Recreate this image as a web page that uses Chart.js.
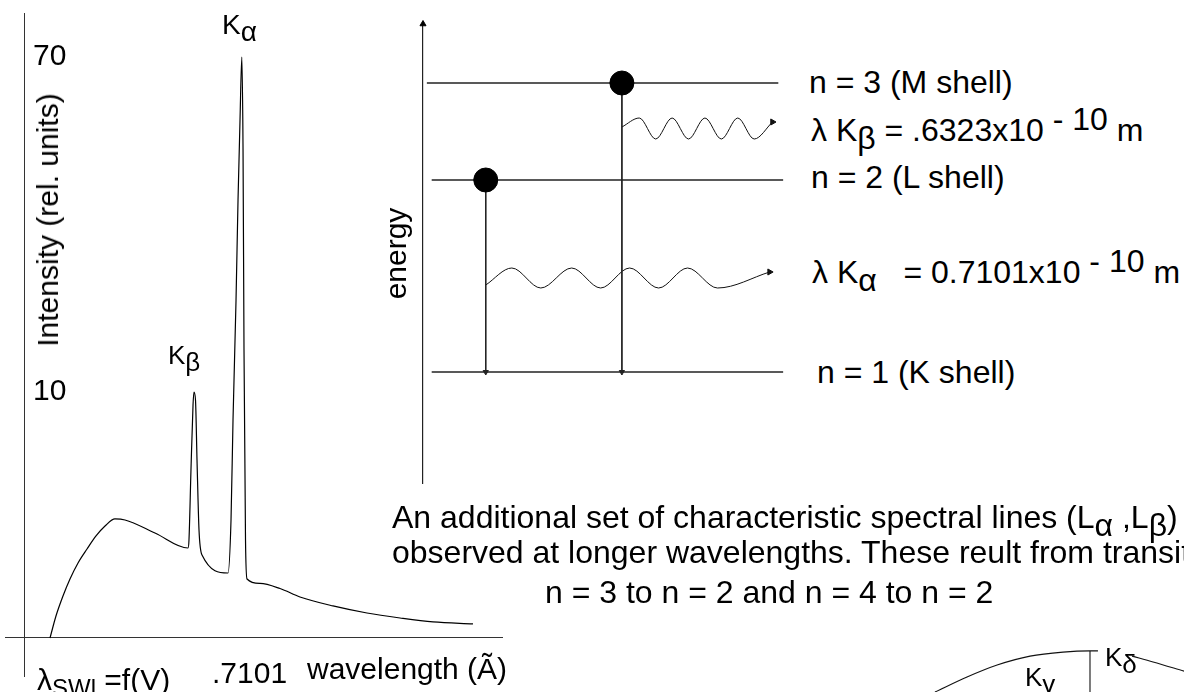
<!DOCTYPE html>
<html>
<head>
<meta charset="utf-8">
<title>X-ray spectrum and K-shell transitions</title>
<script src="https://cdn.jsdelivr.net/npm/chart.js@4.4.1/dist/chart.umd.min.js"></script>
<style>
  html, body { margin: 0; padding: 0; background: #fff; }
  body {
    width: 1184px; height: 692px; overflow: hidden; position: relative;
    font-family: "Liberation Sans", Arial, sans-serif; color: #000;
  }
  .box { position: absolute; }
  .box canvas { display: block; }
  .txt { position: absolute; white-space: pre; line-height: 1; font-size: 30px; }
  .e { font-size: 32px; }
  .lo { position: relative; top: 0.25em; }
  .hi { position: relative; top: -0.33em; }
  .rot { transform: translate(-50%, -50%) rotate(-90deg); }
</style>
</head>
<body>

<div class="box" style="left:-51px; top:-33px; width:571px; height:756px;">
  <canvas id="spectrumChart" width="571" height="756"></canvas>
</div>
<div class="box" style="left:373px; top:0; width:427px; height:500px;">
  <canvas id="levelChart" width="427" height="500"></canvas>
</div>
<div class="box" style="left:900px; top:600px; width:284px; height:92px;">
  <canvas id="edgeChart" width="284" height="92"></canvas>
</div>

<!-- spectrum labels -->
<div class="txt" style="left:222px; top:11px; font-size:28px;">K<span class="lo">α</span></div>
<div class="txt" style="left:168px; top:342px; font-size:26px;">K<span class="lo">β</span></div>
<div class="txt rot" style="left:48px; top:220px;">Intensity (rel. units)</div>
<div class="txt" style="left:37px; top:665px;">λ<span class="lo" style="font-size:0.8em">SWl</span> =f(V)</div>
<div class="txt" style="left:212px; top:658px;">.7101</div>
<div class="txt" style="left:307px; top:654px;">wavelength (Ã)</div>

<!-- energy level labels -->
<div class="txt e" style="left:809px; top:66px;">n = 3 (M shell)</div>
<div class="txt e" style="left:811px; top:114px;">λ K<span class="lo">β</span> = .6323x10 <span class="hi">- 10</span> m</div>
<div class="txt e" style="left:811px; top:161px;">n = 2 (L shell)</div>
<div class="txt e" style="left:812px; top:256px;">λ K<span class="lo">α</span>   = 0.7101x10 <span class="hi">- 10</span> m</div>
<div class="txt e" style="left:817px; top:356px;">n = 1 (K shell)</div>

<!-- paragraph -->
<div class="txt e" style="left:392px; top:501px;">An additional set of characteristic spectral lines (L<span class="lo">α</span> ,L<span class="lo">β</span>) (</div>
<div class="txt e" style="left:392px; top:536px;">observed at longer wavelengths. These reult from transitions</div>
<div class="txt e" style="left:545px; top:576px;">n = 3 to n = 2 and n = 4 to n = 2</div>

<!-- absorption edge labels -->
<div class="txt" style="left:1025px; top:664px; font-size:26px;">K<span class="lo">γ</span></div>
<div class="txt" style="left:1105px; top:644px; font-size:26px;">K<span class="lo">δ</span></div>

<script>
// Espectro continuo + lineas caracteristicas (longitud de onda en Å, intensidad relativa)
const wavelengths = [
  0.3925, 0.4024, 0.4140, 0.4256, 0.4389, 0.4538, 0.4687, 0.4836, 0.5001, 0.5167, 0.5663, 0.6210,
  0.6226, 0.6259, 0.6293, 0.6309, 0.6334, 0.6359, 0.6392, 0.6442,
  0.6872, 0.6922, 0.6955, 0.7005, 0.7038, 0.7071, 0.7101, 0.7121, 0.7137, 0.7162, 0.7187,
  0.7402, 0.7733, 0.8064, 0.8610, 0.9173, 0.9720, 1.0266, 1.0928
];
const intensities = [
  0, 2.65, 5.06, 7.11, 9.04, 10.72, 12.29, 13.49, 14.34, 14.22, 12.65, 10.84,
  11.81, 20.24, 28.07, 29.64, 28.67, 21.45, 13.01, 10.00,
  7.83, 14.22, 26.26, 40.72, 52.77, 62.41, 70.0, 58.79, 34.70, 11.81, 7.11,
  6.57, 5.96, 4.94, 3.86, 3.01, 2.41, 1.93, 1.69
];
const yTickValues = [0, 29.64, 70];
const yTickLabels = ['', '10', '70'];
const intensityAxisAt = 0.3511;   // wavelength where the intensity axis crosses

// Diagrama de niveles (energia en unidades arbitrarias)
const levelNames = ['n = 3', 'n = 2', 'n = 1'];
const levelEnergy = [40.0, 30.3, 11.1];
const levelStart = [0.4, 0.9, 0.9];
const levelEnd = [36.8, 37.3, 37.3];
const electronX = [20.6, 6.5];
const electronLevel = [0, 1];       // index into levelEnergy
const energyTop = 45.9;

// Fotones emitidos (extremos de la onda)
const kaPhotonX = [6.5, 9.2, 12.2, 15.4, 18.4, 21.4, 24.4, 27.4, 30.5, 35.9];
const kaPhotonY = [19.8, 21.5, 19.5, 21.5, 19.5, 21.5, 19.5, 21.5, 19.5, 21.1];
const kbPhotonX = [20.6, 22.4, 24.1, 25.8, 27.5, 29.2, 30.9, 32.6, 34.3, 36.2];
const kbPhotonY = [35.6, 36.5, 34.4, 36.5, 34.4, 36.5, 34.4, 36.5, 34.4, 36.1];

// Borde de absorcion (esquina inferior derecha)
const arcLeftX = [12.3, 23.6, 34.2, 45.8, 57.4, 66.9, 69.7];
const arcLeftY = [0, 4.9, 8.8, 11.7, 13.0, 13.4, 13.4];
const edgeX = [66.9, 66.9];
const edgeY = [13.4, 0];
const arcRightX = [81.7, 89.1, 100];
const arcRightY = [11.7, 9.8, 6.8];

const FONT = '"Liberation Sans", Arial, sans-serif';
Chart.defaults.font.family = FONT;
Chart.defaults.color = '#000';
Chart.defaults.animation = false;
Chart.defaults.plugins.legend.display = false;
Chart.defaults.plugins.tooltip.enabled = false;

document.addEventListener('DOMContentLoaded', function() {
  initializeSpectrumChart();
  initializeLevelChart();
  initializeEdgeChart();
});

function toPoints(xs, ys) {
  return xs.map((x, i) => ({ x: x, y: ys[i] }));
}

/**
* Grafico del espectro de rayos X
*/
function initializeSpectrumChart() {
  const ctx = document.getElementById('spectrumChart').getContext('2d');

  window.spectrumChart = new Chart(ctx, {
    type: 'line',
    data: {
      datasets: [{
        label: 'Intensity',
        data: toPoints(wavelengths, intensities),
        borderColor: '#000',
        borderWidth: 1.2,
        pointRadius: 0,
        fill: false,
        cubicInterpolationMode: 'monotone'
      }]
    },
    options: {
      responsive: false,
      // el eje y con etiquetas en espejo reserva su propio margen
      layout: { padding: { left: 0, right: 17, top: 0, bottom: 0 } },
      scales: {
        x: {
          type: 'linear',
          min: 0.318,
          max: 1.1425,
          afterBuildTicks: function(scale) {
            scale.ticks = [{ value: intensityAxisAt }];
          },
          ticks: { display: false },
          grid: { color: '#333', lineWidth: 1, drawTicks: false },
          border: { display: false }
        },
        y: {
          type: 'linear',
          min: -4.7,
          max: 75.3,
          afterBuildTicks: function(scale) {
            scale.ticks = yTickValues.map(v => ({ value: v }));
          },
          ticks: {
            mirror: true,
            padding: 28,
            color: '#000',
            font: { size: 30 },
            callback: function(value, index) { return yTickLabels[index]; }
          },
          grid: {
            color: c => (c.tick && c.tick.value === 0) ? '#333' : 'transparent',
            lineWidth: 1,
            drawTicks: false
          },
          border: { display: false }
        }
      }
    }
  });
}

/**
* Diagrama de niveles de energia K, L, M
*/
function initializeLevelChart() {
  const ctx = document.getElementById('levelChart').getContext('2d');
  const datasets = [];

  // electrones
  datasets.push({
    label: 'electrons',
    data: electronX.map((x, i) => ({ x: x, y: levelEnergy[electronLevel[i]] })),
    showLine: false,
    pointRadius: 12,
    pointBackgroundColor: '#000',
    pointBorderColor: '#000',
    clip: false
  });

  // flecha del eje de energia
  datasets.push({
    label: 'energy arrow',
    data: [{ x: 0, y: energyTop }],
    showLine: false,
    pointStyle: 'triangle',
    pointRadius: 3.5,
    pointBackgroundColor: '#000',
    pointBorderColor: '#000',
    clip: false
  });

  // transiciones hacia n = 1
  electronX.forEach((x, i) => {
    datasets.push({
      label: 'transition ' + levelNames[electronLevel[i]],
      data: [{ x: x, y: levelEnergy[electronLevel[i]] }, { x: x, y: levelEnergy[2] }],
      borderColor: '#222',
      borderWidth: 1,
      pointStyle: 'triangle',
      pointRotation: 180,
      pointRadius: [0, 3],
      pointBackgroundColor: '#222',
      pointBorderColor: '#222',
      clip: false
    });
  });

  // fotones K-alfa y K-beta
  [[kaPhotonX, kaPhotonY, 'K-alpha'], [kbPhotonX, kbPhotonY, 'K-beta']].forEach(p => {
    datasets.push({
      label: p[2],
      data: toPoints(p[0], p[1]),
      borderColor: '#111',
      borderWidth: 1,
      cubicInterpolationMode: 'monotone',
      pointStyle: 'triangle',
      pointRotation: 90,
      pointRadius: p[0].map((v, i) => i === p[0].length - 1 ? 3.5 : 0),
      pointBackgroundColor: '#111',
      pointBorderColor: '#111',
      clip: false
    });
  });

  // niveles
  levelNames.forEach((name, i) => {
    datasets.push({
      label: name,
      data: [{ x: levelStart[i], y: levelEnergy[i] }, { x: levelEnd[i], y: levelEnergy[i] }],
      borderColor: '#222',
      borderWidth: 1.3,
      pointRadius: 0,
      clip: false
    });
  });

  window.levelChart = new Chart(ctx, {
    type: 'line',
    data: { datasets: datasets },
    options: {
      responsive: false,
      layout: { padding: { left: 0, right: 0, top: 24, bottom: 17 } },
      scales: {
        x: { type: 'linear', min: 0, max: 37.7, display: false },
        y: {
          type: 'linear',
          min: 0,
          max: energyTop,
          ticks: { display: false },
          grid: { display: true, color: 'transparent', drawTicks: false },
          border: { display: true, color: '#222', width: 1.2 },
          title: {
            display: true,
            text: 'energy',
            color: '#000',
            font: { size: 30 },
            padding: { top: 7, bottom: 7 }
          }
        }
      }
    }
  });
}

/**
* Fragmento del borde de absorcion K
*/
function initializeEdgeChart() {
  const ctx = document.getElementById('edgeChart').getContext('2d');
  const line = (label, xs, ys) => ({
    label: label,
    data: toPoints(xs, ys),
    borderColor: '#111',
    borderWidth: 1.1,
    pointRadius: 0,
    cubicInterpolationMode: 'monotone'
  });

  window.edgeChart = new Chart(ctx, {
    type: 'line',
    data: {
      datasets: [
        line('arc left', arcLeftX, arcLeftY),
        line('edge', edgeX, edgeY),
        line('arc right', arcRightX, arcRightY)
      ]
    },
    options: {
      responsive: false,
      layout: { padding: 0 },
      scales: {
        x: { type: 'linear', min: 0, max: 100, display: false },
        y: { type: 'linear', min: 0, max: 30, display: false }
      }
    }
  });
}
</script>
</body>
</html>
